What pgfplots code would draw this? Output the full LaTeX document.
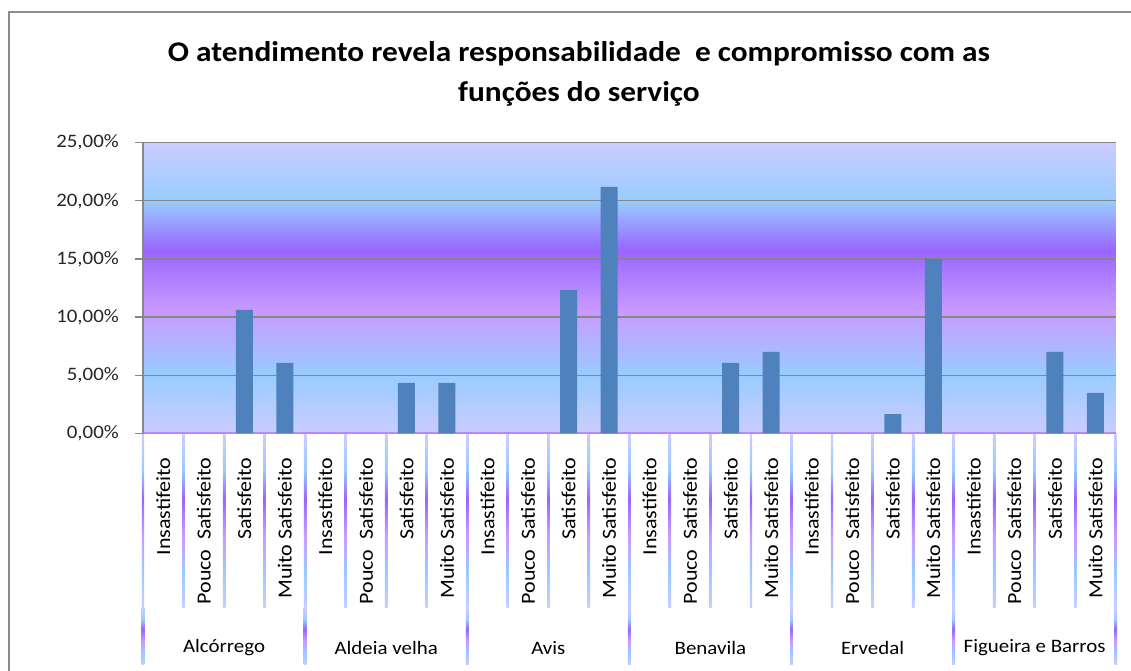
\documentclass[border=0pt]{standalone}
\usepackage{pgfplots}
\pgfplotsset{compat=1.18}
\usepackage{fontspec}
\setmainfont{Carlito}[FakeStretch=1.1]
\definecolor{bgA}{HTML}{CCCCFF}
\definecolor{bgB}{HTML}{99CCFF}
\definecolor{bgC}{HTML}{C99BFF}
\definecolor{bgD}{HTML}{9966FF}
\definecolor{barc}{HTML}{4F81BD}
\definecolor{gridc}{HTML}{868686}
\definecolor{axpurple}{HTML}{B48AFF}
\definecolor{framec}{HTML}{8C8C8C}
\pgfdeclareverticalshading{excelbg}{100bp}{color(0bp)=(bgA); color(25bp)=(bgA); color(35bp)=(bgB); color(46bp)=(bgC); color(56.5bp)=(bgD); color(65bp)=(bgB); color(75bp)=(bgA); color(100bp)=(bgA)}
\begin{document}
\begin{tikzpicture}[x=1pt,y=1pt]
\useasboundingbox (0,0) rectangle (1131,671);
\fill[white] (0,0) rectangle (1131,671);
\draw[framec, line width=2pt] (9,659) rectangle (1200,-50);
\node[font=\bfseries\fontsize{28.5}{40}\selectfont, align=center] at (579,597) {O atendimento revela responsabilidade\ \ e compromisso com as\\funções do serviço};
\begin{axis}[
  at={(143pt,237.7pt)}, anchor=south west,
  width=972.7pt, height=290.6pt, scale only axis,
  xmin=-0.5, xmax=23.5, ymin=0, ymax=25,
  axis background/.style={shade, shading=excelbg},
  axis y line*=left, axis x line*=bottom,
  y axis line style={draw=gridc, line width=1.3pt, -},
  x axis line style={draw=axpurple, line width=2.2pt, -},
  ymajorgrids, major grid style={draw=gridc, line width=1.3pt},
  ytick={0,5,10,15,20,25},
  yticklabels={{0,00\%},{5,00\%},{10,00\%},{15,00\%},{20,00\%},{25,00\%}},
  ytick style={draw=gridc, line width=1.3pt},
  tick align=outside, major tick length=8pt,
  yticklabel style={font=\fontsize{19}{22}\selectfont, text=black!85, anchor=east, inner sep=0pt, xshift=-16pt},
  xtick={0,...,23},
  xtick style={draw=none},
  xticklabels={Insastifeito,Pouco\ \ Satisfeito,Satisfeito,Muito Satisfeito,Insastifeito,Pouco\ \ Satisfeito,Satisfeito,Muito Satisfeito,Insastifeito,Pouco\ \ Satisfeito,Satisfeito,Muito Satisfeito,Insastifeito,Pouco\ \ Satisfeito,Satisfeito,Muito Satisfeito,Insastifeito,Pouco\ \ Satisfeito,Satisfeito,Muito Satisfeito,Insastifeito,Pouco\ \ Satisfeito,Satisfeito,Muito Satisfeito},
  xticklabel style={font=\fontsize{20}{24}\selectfont, rotate=90, anchor=east, inner sep=0pt, yshift=0pt, xshift=-16pt},
  clip=false,
]
\addplot[ybar, bar width=17pt, fill=barc, draw=none] coordinates {
(0,0) (1,0) (2,10.61) (3,6.05)
(4,0) (5,0) (6,4.33) (7,4.33)
(8,0) (9,0) (10,12.33) (11,21.2)
(12,0) (13,0) (14,6.05) (15,7.0)
(16,0) (17,0) (18,1.66) (19,15.0)
(20,0) (21,0) (22,7.0) (23,3.47)};
\end{axis}
% separators below the axis
\foreach \k in {0,...,24}{
  \pgfmathsetmacro{\xx}{143+40.53*\k}
  \shade[shading=excelbg] (\xx-1.2,63) rectangle (\xx+1.2,236);
}
\foreach \k in {0,4,...,24}{
  \pgfmathsetmacro{\xx}{143+40.53*\k}
  \shade[shading=excelbg] (\xx-1.4,6) rectangle (\xx+1.4,63);
}
\foreach \k/\name in {0/Alcórrego,1/Aldeia velha,2/Avis,3/Benavila,4/Ervedal,5/Figueira e Barros}{
  \pgfmathsetmacro{\xx}{143+40.53*(4*\k+2)}
  \node[font=\fontsize{19}{22}\selectfont] at (\xx,23) {\name};
}
\end{tikzpicture}
\end{document}
